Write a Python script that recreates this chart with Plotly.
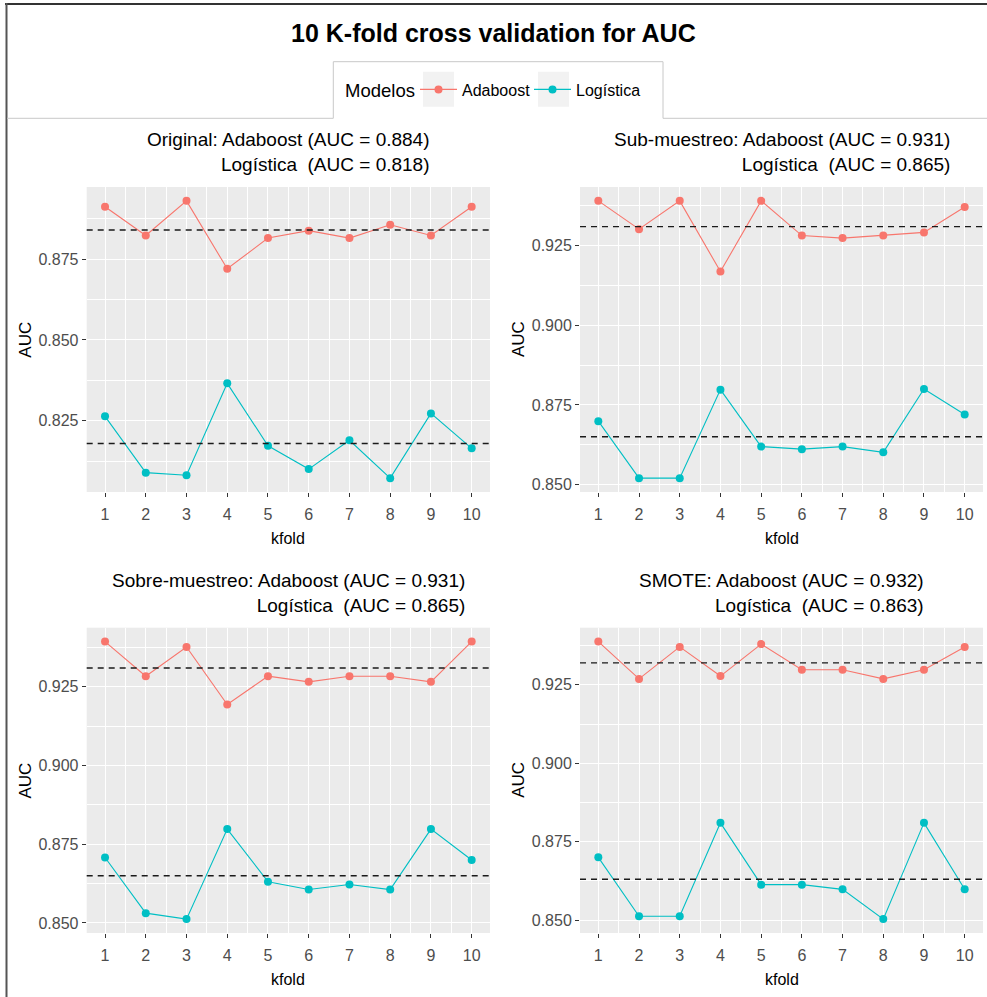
import plotly.graph_objects as go

# ---------------- data ----------------
kfold = [1, 2, 3, 4, 5, 6, 7, 8, 9, 10]
panel_names = ["Original", "Sub-muestreo", "Sobre-muestreo", "SMOTE"]
model_names = ["Adaboost", "Logística"]
legend_title = "Modelos"

ada_original = [0.8912, 0.8823, 0.8930, 0.8720, 0.8815, 0.8838, 0.8815, 0.8856, 0.8823, 0.8912]
log_original = [0.8264, 0.8090, 0.8082, 0.8366, 0.8173, 0.8101, 0.8190, 0.8073, 0.8273, 0.8165]
ada_sub = [0.9391, 0.9302, 0.9391, 0.9169, 0.9391, 0.9282, 0.9274, 0.9282, 0.9292, 0.9372]
log_sub = [0.8699, 0.8520, 0.8520, 0.8798, 0.8619, 0.8611, 0.8619, 0.8601, 0.8800, 0.8720]
ada_sobre = [0.9394, 0.9284, 0.9377, 0.9194, 0.9284, 0.9266, 0.9284, 0.9284, 0.9266, 0.9394]
log_sobre = [0.8708, 0.8531, 0.8512, 0.8798, 0.8631, 0.8606, 0.8622, 0.8606, 0.8798, 0.8700]
ada_smote = [0.9388, 0.9269, 0.9371, 0.9278, 0.9380, 0.9298, 0.9298, 0.9269, 0.9298, 0.9371]
log_smote = [0.8700, 0.8512, 0.8512, 0.8810, 0.8613, 0.8613, 0.8598, 0.8503, 0.8810, 0.8598]

ada_auc = [0.884, 0.931, 0.931, 0.932]
log_auc = [0.818, 0.865, 0.865, 0.863]

ada_series = [ada_original, ada_sub, ada_sobre, ada_smote]
log_series = [log_original, log_sub, log_sobre, log_smote]

# ---------------- layout helpers ----------------
W, H = 987, 997
def px(v):
    return v / W
def py(v):
    return 1 - v / H

FONT = "Liberation Sans, Arial, sans-serif"
COL_ADA = "#F8766D"
COL_LOG = "#00BFC4"

# panel pixel boxes: (left, right, top, bottom)
boxes = [
    (86.7, 490.0, 187.0, 492.0),
    (580.0, 983.0, 187.0, 492.0),
    (86.7, 490.0, 627.7, 933.0),
    (580.0, 983.0, 627.7, 933.0),
]

fig = go.Figure()
annotations = []
shapes = []
layout_axes = {}

for i in range(4):
    ax = "" if i == 0 else str(i + 1)
    xref, yref = "x" + ax, "y" + ax
    ada, lg = ada_series[i], log_series[i]
    for name, vals, col in [(model_names[0], ada, COL_ADA), (model_names[1], lg, COL_LOG)]:
        fig.add_trace(go.Scatter(
            x=kfold, y=vals, mode="lines+markers", name=name,
            line=dict(color=col, width=1.1),
            marker=dict(color=col, size=8),
            legendgroup=name, showlegend=(i == 0),
            xaxis=xref, yaxis=yref,
        ))
    lo = min(min(ada), min(lg))
    hi = max(max(ada), max(lg))
    pad = (hi - lo) * 0.05
    l, r, t, b = boxes[i]
    layout_axes["xaxis" + ax] = dict(
        domain=[px(l), px(r)], anchor=yref, range=[0.55, 10.45],
        tickmode="array", tickvals=kfold, ticktext=[str(k) for k in kfold],
        showgrid=True, gridcolor="white", gridwidth=1.3,
        minor=dict(tickmode="array", tickvals=[k + 0.5 for k in kfold[:-1]],
                   showgrid=True, gridcolor="white", gridwidth=0.6, ticks=""),
        ticks="outside", ticklen=4, tickwidth=1, tickcolor="#333333",
        tickfont=dict(family=FONT, size=16, color="#4D4D4D"),
        zeroline=False, showline=False, automargin=False,
        ticklabelstandoff=4,
    )
    layout_axes["yaxis" + ax] = dict(
        domain=[py(b), py(t)], anchor=xref, range=[lo - pad, hi + pad],
        tick0=0, dtick=0.025, tickformat=".3f",
        showgrid=True, gridcolor="white", gridwidth=1.3,
        minor=dict(dtick=0.0125, tick0=0, showgrid=True, gridcolor="white",
                   gridwidth=0.6, ticks=""),
        ticks="outside", ticklen=4, tickwidth=1, tickcolor="#333333",
        tickfont=dict(family=FONT, size=16, color="#4D4D4D"),
        zeroline=False, showline=False, automargin=False,
    )
    # mean dashed lines
    for val in (ada_auc[i], log_auc[i]):
        shapes.append(dict(type="line", xref=xref + " domain", yref=yref,
                           x0=0, x1=1, y0=val, y1=val,
                           line=dict(color="#1A1A1A", width=1.4, dash="6px,5px"),
                           layer="above"))
    # panel title
    cx = (l + r) / 2
    title = (f"{panel_names[i]}: {model_names[0]} (AUC = {ada_auc[i]:.3f})<br>"
             f"{model_names[1]}\u00a0\u00a0(AUC = {log_auc[i]:.3f})")
    annotations.append(dict(text=title, x=px(cx), y=py(t - 35), xref="paper", yref="paper",
                            xanchor="center", yanchor="middle", align="right", showarrow=False,
                            font=dict(family=FONT, size=19, color="black")))
    # axis titles
    annotations.append(dict(text="AUC", x=px(l - 61.5), y=py((t + b) / 2), xref="paper", yref="paper",
                            xanchor="center", yanchor="middle", textangle=-90, showarrow=False,
                            font=dict(family=FONT, size=17, color="black")))
    annotations.append(dict(text="kfold", x=px(cx), y=py(b + 46), xref="paper", yref="paper",
                            xanchor="center", yanchor="middle", showarrow=False,
                            font=dict(family=FONT, size=16, color="black")))

# main title
annotations.append(dict(text="<b>10 K-fold cross validation for AUC</b>", x=px(493), y=py(33),
                        xref="paper", yref="paper", xanchor="center", yanchor="middle",
                        showarrow=False, font=dict(family=FONT, size=25, color="black")))
# legend title
annotations.append(dict(text=legend_title, x=px(343), y=py(90), xref="paper", yref="paper",
                        xanchor="left", yanchor="middle", showarrow=False,
                        font=dict(family=FONT, size=18.5, color="black")))

# frame lines
shapes += [
    dict(type="line", xref="paper", yref="paper", x0=px(5), x1=px(987), y0=py(4), y1=py(4),
         line=dict(color="#333333", width=2)),
    dict(type="line", xref="paper", yref="paper", x0=px(6.5), x1=px(6.5), y0=py(3), y1=py(997),
         line=dict(color="#555555", width=2)),
]
gray = dict(color="#C8C8C8", width=1)
for (x0, y0, x1, y1) in [(7, 118.3, 333.3, 118.3), (333.3, 61.7, 333.3, 118.3),
                         (333.3, 61.7, 663, 61.7), (663, 61.7, 663, 118.3),
                         (663, 118.3, 987, 118.3)]:
    shapes.append(dict(type="line", xref="paper", yref="paper", x0=px(x0), x1=px(x1),
                       y0=py(y0), y1=py(y1), line=gray))
# legend key backgrounds
for (x0, x1) in [(423, 454), (538, 569)]:
    shapes.append(dict(type="rect", xref="paper", yref="paper", x0=px(x0), x1=px(x1),
                       y0=py(106.7), y1=py(71.7), fillcolor="#F2F2F2", line=dict(width=0),
                       layer="below"))

fig.update_layout(
    width=W, height=H, margin=dict(l=0, r=0, t=0, b=0),
    paper_bgcolor="white", plot_bgcolor="#EBEBEB",
    annotations=annotations, shapes=shapes,
    showlegend=True,
    legend=dict(orientation="h", x=px(415), y=py(89.5), xanchor="left", yanchor="middle",
                bgcolor="rgba(0,0,0,0)", borderwidth=0,
                font=dict(family=FONT, size=16, color="black"),
                itemwidth=37, entrywidth=62, entrywidthmode="pixels", tracegroupgap=0),
    **layout_axes,
)

fig.write_html("out.html")
